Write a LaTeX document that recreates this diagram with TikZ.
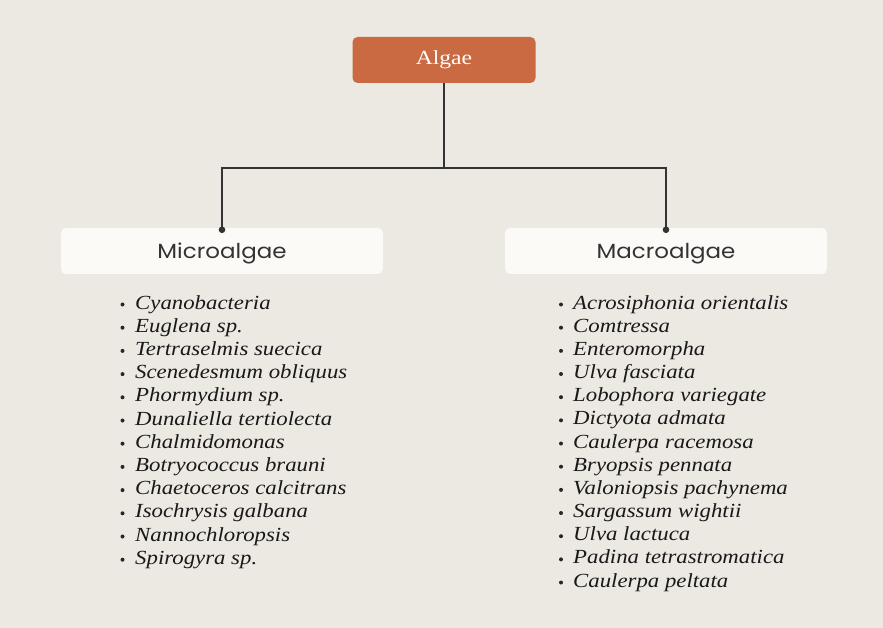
\documentclass[tikz,border=0pt]{standalone}
\usepackage{fontspec}
\setmainfont{Liberation Serif}
\newfontfamily\listfont[FakeStretch=1.14]{Liberation Serif}
\newfontfamily\topfont[FakeStretch=1.18]{Liberation Serif}
\newfontfamily\headfont[FakeStretch=1.12]{Poppins}
\definecolor{bgc}{HTML}{ECE8E2}
\definecolor{orangebox}{HTML}{C96A43}
\definecolor{paleb}{HTML}{FBFAF7}
\definecolor{ink}{HTML}{333333}
\definecolor{conn}{HTML}{333333}
\tikzset{
  topbox/.style={fill=orangebox, rounded corners=5pt, minimum width=183pt, minimum height=46pt,
    text=white, font=\topfont\fontsize{20}{22}\selectfont, inner sep=0pt},
  catbox/.style={fill=paleb, rounded corners=5pt, minimum width=322pt, minimum height=46pt,
    text=ink, font=\headfont\fontsize{20.5}{22}\selectfont, inner sep=0pt, text height=18pt, text depth=2pt},
  connector/.style={draw=conn, line width=2pt},
  item/.style={anchor=base west, inner sep=0pt, text=black!90, font=\listfont\itshape\fontsize{20}{24}\selectfont},
}
\begin{document}
\begin{tikzpicture}[x=1pt,y=-1pt]
\fill[bgc] (0,0) rectangle (883,628);
\useasboundingbox (0,0) rectangle (883,628);
\node[topbox] (algae) at (444,60) {Algae};
\node[catbox] (micro) at (222,251) {Microalgae};
\node[catbox] (macro) at (666,251) {Macroalgae};
\draw[connector] (micro.north) -- ++(0,-60) coordinate (jl) -| (macro.north);
\draw[connector] (algae.south) -- (algae.south |- jl);
\fill[conn] (micro.north) ++(0,2) circle (3.3);
\fill[conn] (macro.north) ++(0,2) circle (3.3);
\foreach \t [count=\i] in {Cyanobacteria, Euglena sp., Tertraselmis suecica, Scenedesmum obliquus, Phormydium sp., Dunaliella tertiolecta, Chalmidomonas, Botryococcus brauni, Chaetoceros calcitrans, Isochrysis galbana, Nannochloropsis, Spirogyra sp.}{
  \node[item] (mi\i) at (135,309+23.2*\i-23.2) {\t};
  \fill[black!85] (122.5,304.5+23.2*\i-23.2) circle (2);
}
\foreach \t [count=\i] in {Acrosiphonia orientalis, Comtressa, Enteromorpha, Ulva fasciata, Lobophora variegate, Dictyota admata, Caulerpa racemosa, Bryopsis pennata, Valoniopsis pachynema, Sargassum wightii, Ulva lactuca, Padina tetrastromatica, Caulerpa peltata}{
  \node[item] (ma\i) at (573,309+23.17*\i-23.17) {\t};
  \fill[black!85] (561,304.5+23.17*\i-23.17) circle (2);
}
\end{tikzpicture}
\end{document}
